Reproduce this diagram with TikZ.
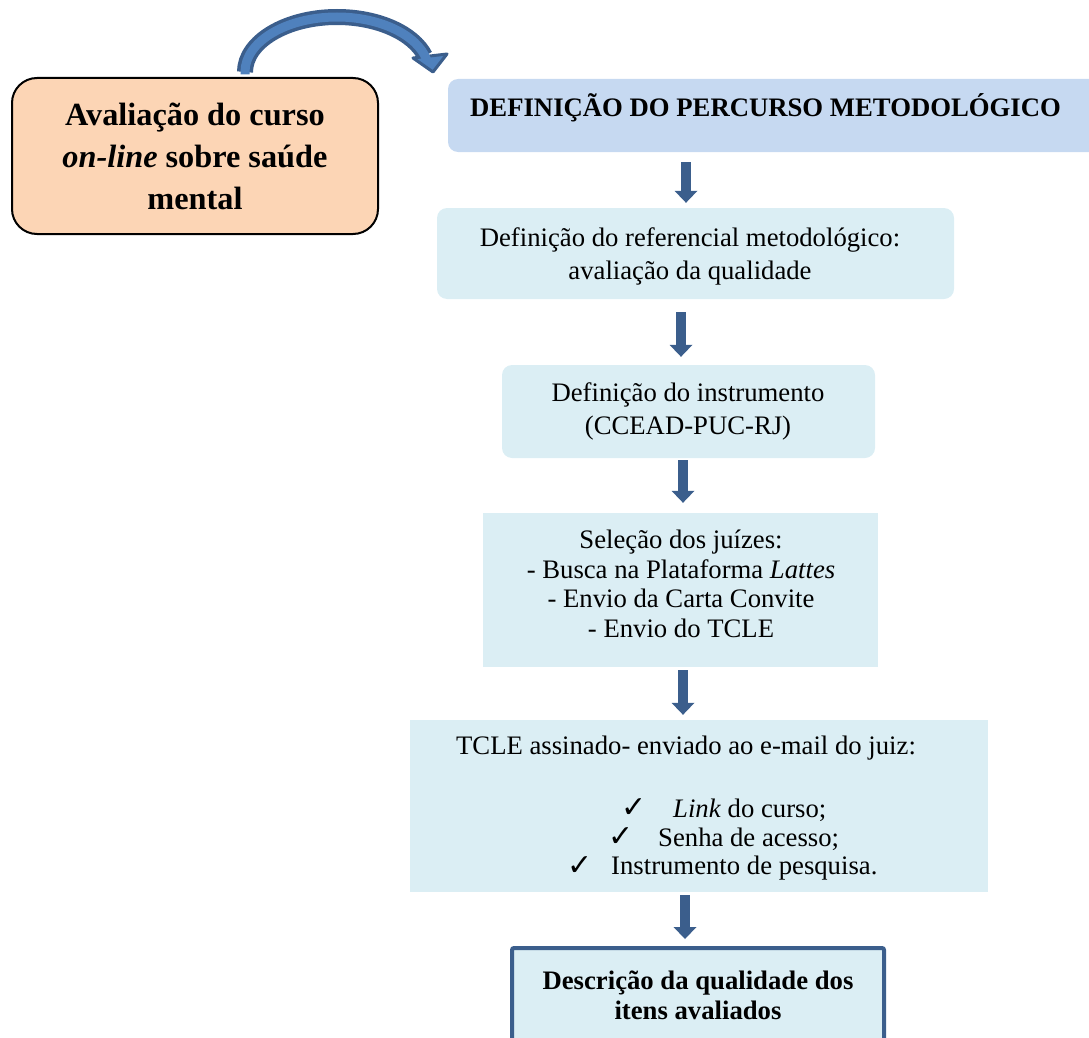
\documentclass[tikz,border=0pt]{standalone}
\usepackage{fontspec}
\setmainfont{Liberation Serif}
\newfontfamily\symf{DejaVu Sans}
\usetikzlibrary{arrows.meta}
\definecolor{peach}{HTML}{FCD5B5}
\definecolor{topblue}{HTML}{C6D9F1}
\definecolor{lightblue}{HTML}{DBEEF4}
\definecolor{arrdark}{HTML}{3B5E8C}
\definecolor{arrlight}{HTML}{4F81BD}
\tikzset{
  stepbox/.style={fill=lightblue, inner sep=0pt, align=center},
  txt/.style={inner sep=0pt, font=\fontsize{26.7}{33}\selectfont, align=center},
  chk/.style={inner sep=0pt, font=\symf\fontsize{30}{32}\selectfont},
  downarr/.style={line width=10.5pt, draw=arrdark, -{Triangle[width=23pt,length=12pt,line width=0pt]}},
}
\begin{document}
\begin{tikzpicture}[x=1pt,y=-1pt]
\path[use as bounding box, clip] (0,0) rectangle (1089,1038);
% left box
\node[draw=black, line width=2pt, fill=peach, rounded corners=25pt, minimum width=366pt, minimum height=156pt, inner sep=0pt, align=center, font=\bfseries\fontsize{32.3}{42}\selectfont] (eval) at (195,156) {Avaliação do curso\\\textit{on-line} sobre saúde\\mental};
% top box
\node[fill=topblue, rounded corners=10pt, minimum width=652pt, minimum height=73pt, inner sep=0pt] (def) at (774,115.5) {};
\node[inner sep=0pt, anchor=west, font=\bfseries\fontsize{26.7}{30}\selectfont] (deft) at (470,108) {DEFINIÇÃO DO PERCURSO METODOLÓGICO};
% box 2
\node[stepbox, rounded corners=10pt, minimum width=517pt, minimum height=91pt] (ref) at (695.5,253.5) {};
\node[txt] (reft) at (690,256.5) {Definição do referencial metodológico:\\avaliação da qualidade};
% box 3
\node[stepbox, rounded corners=10pt, minimum width=373pt, minimum height=93pt] (inst) at (688.5,411.5) {};
\node[txt] (instt) at (688,411.5) {Definição do instrumento\\(CCEAD-PUC-RJ)};
% box 4
\node[stepbox, minimum width=395pt, minimum height=154pt] (sel) at (680.5,590) {};
\node[txt, font=\fontsize{26.7}{29.5}\selectfont] (selt) at (681,584) {Seleção dos juízes:\\- Busca na Plataforma \textit{Lattes}\\- Envio da Carta Convite\\- Envio do TCLE};
% box 5
\node[stepbox, minimum width=578pt, minimum height=172pt] (tcle) at (699,806) {};
\node[txt] (tclet) at (686,748) {TCLE assinado- enviado ao e-mail do juiz:};
\node[chk] (c1) at (634,808) {✓};
\node[txt, anchor=west] (l1) at (673,810) {\textit{Link} do curso;};
\node[chk] (c2) at (621,837) {✓};
\node[txt, anchor=west] (l2) at (658,839) {Senha de acesso;};
\node[chk] (c3) at (580,866) {✓};
\node[txt, anchor=west] (l3) at (611,868) {Instrumento de pesquisa.};
% box 6
\node[stepbox, draw=arrdark, line width=4pt, rounded corners=2pt, minimum width=372pt, minimum height=130pt] (desc) at (698,1013) {};
\node[txt, font=\bfseries\fontsize{26.7}{30}\selectfont] (desct) at (698,995) {Descrição da qualidade dos\\itens avaliados};
% straight arrows
\coordinate (x1) at (686,0);
\coordinate (x2) at (681,0);
\coordinate (x3) at (683,0);
\coordinate (x5) at (685,0);
\draw[downarr, shorten <=10pt, shorten >=5pt] (def.south -| x1) -- (ref.north -| x1);
\draw[downarr, shorten <=13pt, shorten >=8pt] (ref.south -| x2) -- (inst.north -| x2);
\draw[downarr, shorten <=2pt, shorten >=10pt] (inst.south -| x3) -- (sel.north -| x3);
\draw[downarr, shorten <=3pt, shorten >=5pt] (sel.south -| x3) -- (tcle.north -| x3);
\draw[downarr, shorten <=3pt, shorten >=7pt] (tcle.south -| x5) -- (desc.north -| x5);
% curved arrow
\coordinate (cs) at (245,72);
\coordinate (hl) at (447,54);
\coordinate (hr) at (413,58);
\coordinate (ht) at (433,72);
\draw[line width=16pt, draw=arrdark] (cs) arc[start angle=180, end angle=343, x radius=92, y radius=55];
\draw[line width=3pt, line join=round, draw=arrdark, fill=arrlight] (hl) -- (ht) -- (hr) -- cycle;
\draw[line width=9pt, draw=arrlight] ([yshift=-2.5pt]cs) -- (cs) arc[start angle=180, end angle=347, x radius=92, y radius=55];
\end{tikzpicture}
\end{document}
